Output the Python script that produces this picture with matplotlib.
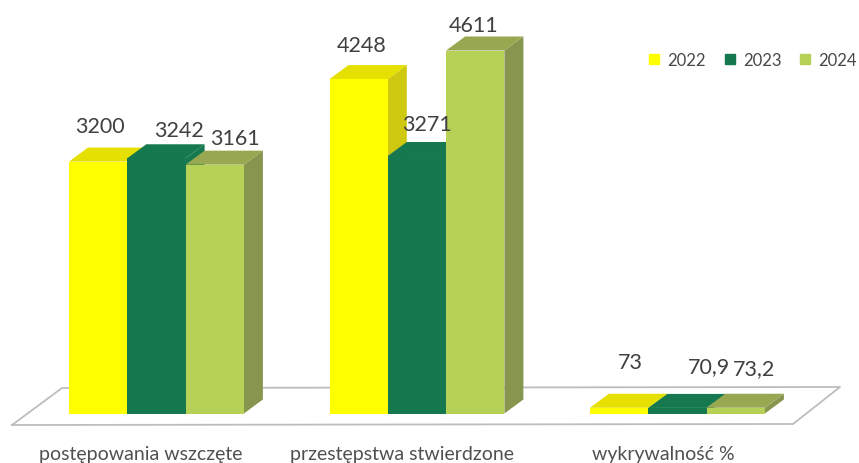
import matplotlib.pyplot as plt
from matplotlib.patches import Patch

categories = ["postępowania wszczęte", "przestępstwa stwierdzone", "wykrywalność %"]
years = ["2022", "2023", "2024"]
values_2022 = [3200, 4248, 73]
values_2023 = [3242, 3271, 70.9]
values_2024 = [3161, 4611, 73.2]
value_labels = [["3200", "4248", "73"], ["3242", "3271", "70,9"], ["3161", "4611", "73,2"]]

W, H = 859, 464
front_colors = ["#ffff00", "#15784e", "#b7d056"]
top_colors = ["#e6e000", "#15784e", "#97a850"]
side_colors = ["#cfc810", "#15784e", "#87964f"]

# pixel scale of the picture
PX_PER_GROUP = 260.5
PX_PER_VALUE = 363 / 4611
X0, Y0 = 69, 414.5
BAR_W = 58.3 / PX_PER_GROUP
DX = 19 / PX_PER_GROUP
DY = 14 / PX_PER_VALUE

plt.rcParams["font.family"] = ["Lato", "DejaVu Sans"]
fig = plt.figure(figsize=(W / 100, H / 100), dpi=100)
ax = fig.add_axes([0, 0, 1, 1])
ax.set_xlim(-X0 / PX_PER_GROUP, (W - X0) / PX_PER_GROUP)
ax.set_ylim((Y0 - H) / PX_PER_VALUE, Y0 / PX_PER_VALUE)
ax.axis("off")


def px(x, y):
    # picture pixels to data coordinates
    return (x - X0) / PX_PER_GROUP, (Y0 - y) / PX_PER_VALUE


# floor
floor = [px(12, 426), px(62, 389), px(840, 388), px(793, 425), px(12, 426)]
ax.plot(*zip(*floor), color="#bdbdbd", lw=1.3, zorder=1)

series = [values_2022, values_2023, values_2024]
for g in range(len(categories)):
    for s, vals in enumerate(series):
        v = vals[g]
        x = g + s * BAR_W
        ax.fill([x + BAR_W, x + BAR_W + DX, x + BAR_W + DX, x + BAR_W],
                [0, DY, v + DY, v], color=side_colors[s], lw=0, zorder=2 + s)
        ax.fill([x, x + DX, x + BAR_W + DX, x + BAR_W],
                [v, v + DY, v + DY, v], color=top_colors[s], lw=0, zorder=2 + s)
        ax.bar(x, v, BAR_W, align="edge", color=front_colors[s], lw=0, zorder=2 + s)

# data labels sit where the original chart put them by hand
label_px = [[(100, 127), (362, 46), (630, 363)],
            [(179, 131), (427, 125), (709, 367)],
            [(235, 139), (474, 26), (754, 369)]]
for s in range(3):
    for g in range(3):
        lx, ly = px(*label_px[s][g])
        ax.text(lx, ly, value_labels[s][g], ha="center", va="center",
                fontsize=15.5, color="#404040", zorder=10)

for g, name in enumerate(categories):
    lx, ly = px([141, 402, 663][g], 455)
    ax.text(lx, ly, name, ha="center", va="center", fontsize=14, color="#505050")

handles = [Patch(color=c, label=y) for c, y in zip(front_colors, years)]
ax.legend(handles=handles, ncol=3, frameon=False, loc="center right",
          bbox_to_anchor=(1.015, 1 - 61 / H), fontsize=12, labelcolor="#484848",
          handlelength=0.6, handleheight=0.6, handletextpad=0.48, columnspacing=1.15)

fig.savefig("out.png", dpi=100)
